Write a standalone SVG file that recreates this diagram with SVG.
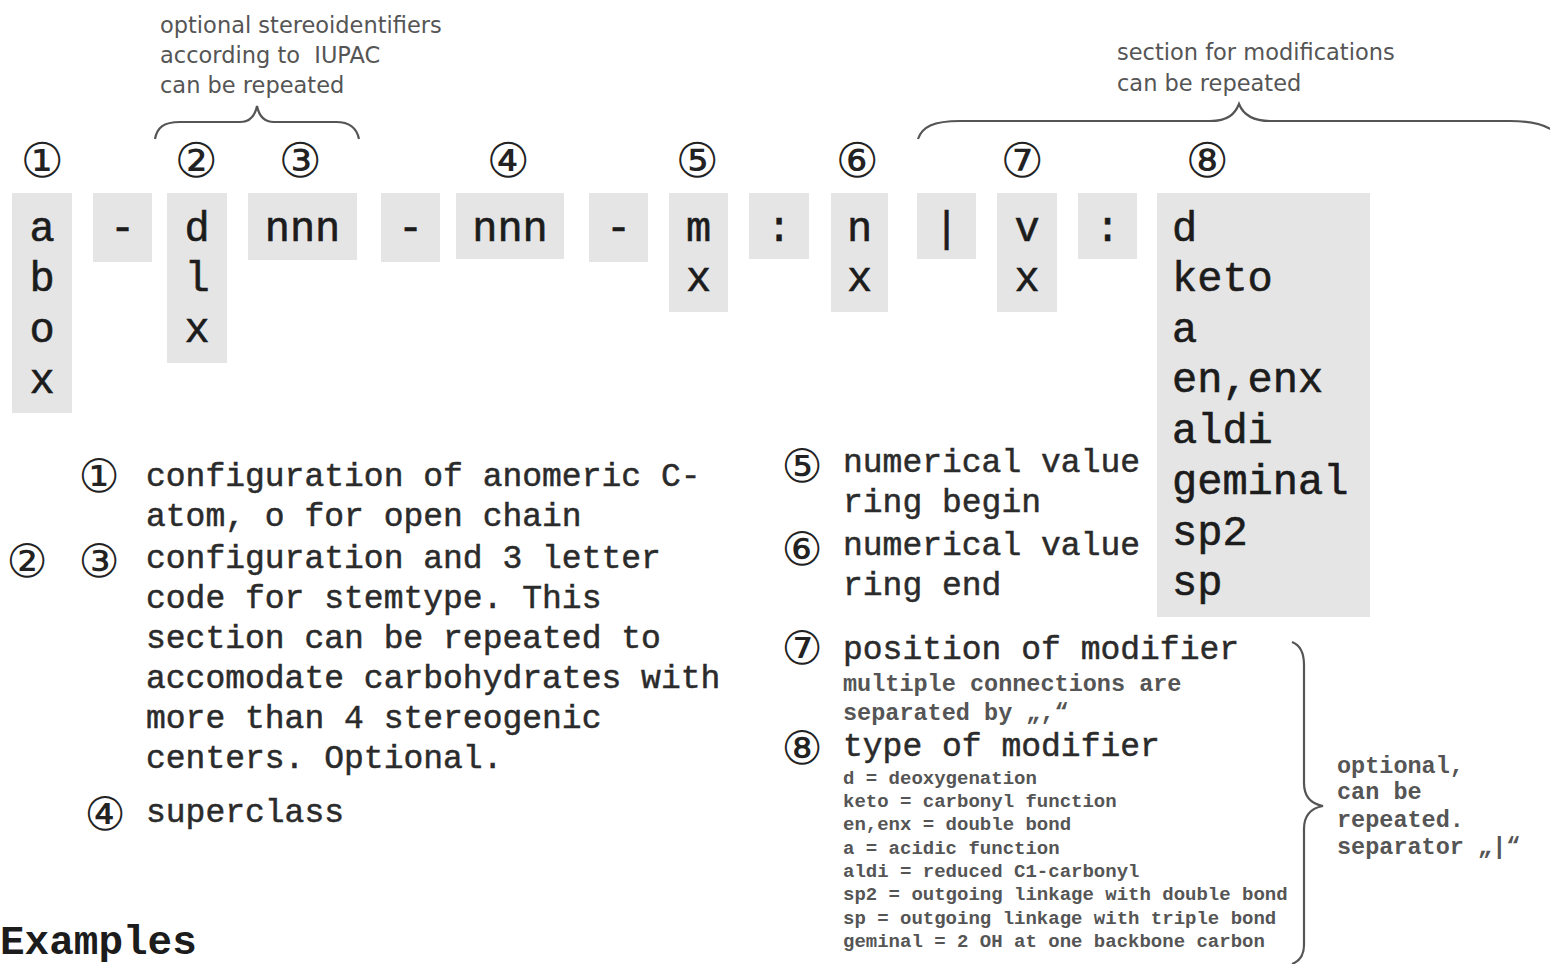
<svg xmlns="http://www.w3.org/2000/svg" width="1550" height="964" viewBox="0 0 1550 964">
  <style>
    .box { fill: #e5e5e5; }
    .bt { font-family: "Liberation Mono", monospace; font-size: 42px; fill: #1c1c1c; stroke: #1c1c1c; stroke-width: 0.6; text-anchor: middle; }
    .bl { font-family: "Liberation Mono", monospace; font-size: 42px; fill: #1c1c1c; stroke: #1c1c1c; stroke-width: 0.6; }
    .num { font-family: "DejaVu Sans", sans-serif; font-size: 48px; fill: #222; text-anchor: middle; dominant-baseline: central; }
    .numS { font-family: "DejaVu Sans", sans-serif; font-size: 46px; fill: #222; text-anchor: middle; dominant-baseline: central; }
    .desc { font-family: "Liberation Mono", monospace; font-size: 33px; fill: #2b2b2b; stroke: #2b2b2b; stroke-width: 0.5; }
    .s1 { font-family: "Liberation Mono", monospace; font-size: 23.5px; fill: #555; font-weight: bold; }
    .s2 { font-family: "Liberation Mono", monospace; font-size: 19px; fill: #555; font-weight: bold; }
    .note { font-family: "DejaVu Sans", sans-serif; font-size: 22.5px; fill: #555; }
    .brace { fill: none; stroke: #555; stroke-width: 2.2; }
    .ex { font-family: "Liberation Mono", monospace; font-size: 41px; font-weight: bold; fill: #1c1c1c; }
  </style>

  <!-- annotations above the code string -->
  <g id="note-stereo" class="note">
    <text x="160" y="33">optional stereoidentifiers</text>
    <text x="160" y="63" xml:space="preserve">according to  IUPAC</text>
    <text x="160" y="93">can be repeated</text>
  </g>
  <g id="note-modifications" class="note">
    <text x="1117" y="60">section for modifications</text>
    <text x="1117" y="91">can be repeated</text>
  </g>

  <!-- curly braces -->
  <g id="braces" class="brace">
    <path d="M155,139 C157,128 163,122 180,122 L240,122 C250,122 255,116 257,106 C259,116 264,122 274,122 L336,122 C351,122 357,129 359,139"/>
    <path d="M918,139 C922,127 933,121 960,121 L1210,121 C1228,121 1235,114 1239,104 C1243,114 1252,121 1270,121 L1510,121 C1530,121 1545,124 1555,132"/>
    <path d="M1292,642 C1300,645 1304,652 1304,665 L1304,783 C1304,797 1312,804 1323,806 C1312,808 1304,815 1304,829 L1304,945 C1304,955 1300,961 1292,964"/>
  </g>

  <!-- position markers above the boxes -->
  <g id="markers" class="num">
    <text x="42" y="160">①</text>
    <text x="196" y="160">②</text>
    <text x="300" y="160">③</text>
    <text x="508" y="160">④</text>
    <text x="697" y="160">⑤</text>
    <text x="857" y="160">⑥</text>
    <text x="1022" y="160">⑦</text>
    <text x="1207" y="160">⑧</text>
  </g>

  <!-- code string boxes -->
  <g id="anomer">
    <rect class="box" x="12" y="193" width="60" height="220"/>
    <text class="bt" x="42" y="241">a</text>
    <text class="bt" x="42" y="291">b</text>
    <text class="bt" x="42" y="342">o</text>
    <text class="bt" x="42" y="393">x</text>
  </g>
  <g id="dash1">
    <rect class="box" x="93" y="193" width="59" height="69"/>
    <text class="bt" x="122.5" y="241">-</text>
  </g>
  <g id="config">
    <rect class="box" x="167" y="193" width="60" height="170"/>
    <text class="bt" x="197" y="241">d</text>
    <text class="bt" x="197" y="291">l</text>
    <text class="bt" x="197" y="342">x</text>
  </g>
  <g id="stem">
    <rect class="box" x="248" y="193" width="109" height="67"/>
    <text class="bt" x="302.5" y="241">nnn</text>
  </g>
  <g id="dash2">
    <rect class="box" x="381" y="193" width="59" height="69"/>
    <text class="bt" x="410.5" y="241">-</text>
  </g>
  <g id="superclass">
    <rect class="box" x="456" y="193" width="108" height="66"/>
    <text class="bt" x="510" y="241">nnn</text>
  </g>
  <g id="dash3">
    <rect class="box" x="589" y="193" width="59" height="69"/>
    <text class="bt" x="618.5" y="241">-</text>
  </g>
  <g id="ring-begin">
    <rect class="box" x="669" y="193" width="59" height="119"/>
    <text class="bt" x="698.5" y="241">m</text>
    <text class="bt" x="698.5" y="291">x</text>
  </g>
  <g id="colon1">
    <rect class="box" x="749" y="193" width="60" height="66"/>
    <text class="bt" x="779" y="241">:</text>
  </g>
  <g id="ring-end">
    <rect class="box" x="831" y="193" width="57" height="119"/>
    <text class="bt" x="859.5" y="241">n</text>
    <text class="bt" x="859.5" y="291">x</text>
  </g>
  <g id="bar">
    <rect class="box" x="917" y="193" width="59" height="66"/>
    <text class="bt" x="946.5" y="241">|</text>
  </g>
  <g id="mod-position">
    <rect class="box" x="997" y="193" width="60" height="119"/>
    <text class="bt" x="1027" y="241">v</text>
    <text class="bt" x="1027" y="291">x</text>
  </g>
  <g id="colon2">
    <rect class="box" x="1078" y="193" width="59" height="66"/>
    <text class="bt" x="1107.5" y="241">:</text>
  </g>
  <g id="mod-type">
    <rect class="box" x="1157" y="193" width="213" height="424"/>
    <text class="bl" x="1172" y="241">d</text>
    <text class="bl" x="1172" y="291">keto</text>
    <text class="bl" x="1172" y="342">a</text>
    <text class="bl" x="1172" y="392">en,enx</text>
    <text class="bl" x="1172" y="443">aldi</text>
    <text class="bl" x="1172" y="494">geminal</text>
    <text class="bl" x="1172" y="545">sp2</text>
    <text class="bl" x="1172" y="595">sp</text>
  </g>

  <!-- legend, left column -->
  <g id="legend-left">
    <text class="numS" x="99" y="476">①</text>
    <text class="desc" x="146" y="486">configuration of anomeric C-</text>
    <text class="desc" x="146" y="526">atom, o for open chain</text>
    <text class="numS" x="27" y="561">②</text>
    <text class="numS" x="99" y="561">③</text>
    <text class="desc" x="146" y="568">configuration and 3 letter</text>
    <text class="desc" x="146" y="608">code for stemtype. This</text>
    <text class="desc" x="146" y="648">section can be repeated to</text>
    <text class="desc" x="146" y="688">accomodate carbohydrates with</text>
    <text class="desc" x="146" y="728">more than 4 stereogenic</text>
    <text class="desc" x="146" y="768">centers. Optional.</text>
    <text class="numS" x="105" y="814">④</text>
    <text class="desc" x="146" y="822">superclass</text>
  </g>

  <!-- legend, right column -->
  <g id="legend-right">
    <text class="numS" x="802" y="466">⑤</text>
    <text class="desc" x="843" y="472">numerical value</text>
    <text class="desc" x="843" y="512">ring begin</text>
    <text class="numS" x="802" y="549">⑥</text>
    <text class="desc" x="843" y="555">numerical value</text>
    <text class="desc" x="843" y="595">ring end</text>
    <text class="numS" x="802" y="648">⑦</text>
    <text class="desc" x="843" y="659">position of modifier</text>
    <text class="s1" x="843" y="691">multiple connections are</text>
    <text class="s1" x="843" y="720">separated by „,“</text>
    <text class="numS" x="802" y="748">⑧</text>
    <text class="desc" x="843" y="756">type of modifier</text>
    <text class="s2" x="843" y="784">d = deoxygenation</text>
    <text class="s2" x="843" y="807">keto = carbonyl function</text>
    <text class="s2" x="843" y="830">en,enx = double bond</text>
    <text class="s2" x="843" y="854">a = acidic function</text>
    <text class="s2" x="843" y="877">aldi = reduced C1-carbonyl</text>
    <text class="s2" x="843" y="900">sp2 = outgoing linkage with double bond</text>
    <text class="s2" x="843" y="924">sp = outgoing linkage with triple bond</text>
    <text class="s2" x="843" y="947">geminal = 2 OH at one backbone carbon</text>
  </g>

  <g id="note-repeat" class="s1">
    <text x="1337" y="773">optional,</text>
    <text x="1337" y="799">can be</text>
    <text x="1337" y="827">repeated.</text>
    <text x="1337" y="854">separator „|“</text>
  </g>

  <g id="examples-heading">
    <text class="ex" x="0" y="954">Examples</text>
  </g>
</svg>
